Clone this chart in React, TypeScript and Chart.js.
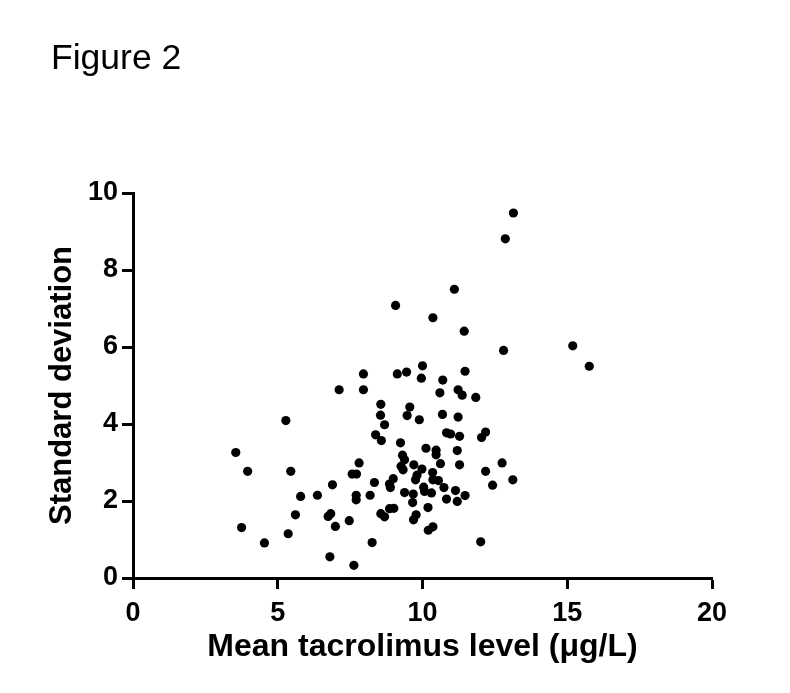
import React, { useEffect, useRef } from "react";
import { Chart, registerables } from "chart.js";

Chart.register(...registerables);

const meanLevel: number[] = [
  9.07, 7.96, 9.13, 7.12, 7.96, 13.14, 12.86, 11.10, 10.36, 11.44,
  12.80, 15.19, 15.76, 10.00, 9.45, 9.96, 10.70, 11.47, 8.56, 8.55,
  8.69, 5.28, 3.55, 3.96, 5.45, 7.81, 7.57, 7.72, 8.38, 8.58,
  9.24, 8.34, 8.99, 8.86, 8.89, 6.89, 5.79, 6.37, 7.71, 7.71,
  8.19, 5.61, 6.74, 6.83, 6.99, 7.47, 8.56, 8.69, 8.86, 9.01,
  3.75, 5.36, 4.54, 8.26, 6.80, 7.63, 10.60, 11.23, 11.37, 11.84,
  9.56, 9.47, 9.89, 10.69, 11.23, 10.83, 10.97, 11.28, 12.18, 12.04,
  10.12, 10.47, 10.47, 11.20, 9.31, 9.38, 9.26, 9.33, 9.70, 9.98,
  10.62, 11.28, 12.75, 12.18, 13.12, 12.42, 10.35, 10.36, 9.81, 9.76,
  10.55, 10.74, 10.04, 10.07, 10.31, 11.14, 11.47, 9.38, 9.68, 9.66,
  10.83, 11.20, 10.19, 9.78, 9.69, 10.36, 10.20, 12.01,
];

const stdDev: number[] = [
  7.08, 5.30, 5.30, 4.89, 4.89, 9.48, 8.81, 7.50, 6.76, 6.41,
  5.91, 6.03, 5.50, 5.51, 5.35, 5.19, 5.14, 5.37, 4.51, 4.23,
  3.98, 4.09, 3.26, 2.77, 2.77, 2.99, 2.70, 2.70, 3.72, 3.57,
  3.51, 2.48, 2.58, 2.44, 2.35, 2.42, 2.12, 2.15, 2.15, 2.03,
  2.15, 1.64, 1.60, 1.67, 1.34, 1.49, 1.67, 1.59, 1.80, 1.81,
  1.31, 1.15, 0.91, 0.92, 0.55, 0.33, 4.81, 4.89, 4.75, 4.69,
  4.44, 4.22, 4.11, 4.25, 4.18, 3.77, 3.74, 3.68, 3.79, 3.65,
  3.37, 3.32, 3.20, 3.31, 3.19, 3.07, 2.90, 2.81, 2.94, 2.83,
  2.97, 2.94, 2.99, 2.77, 2.55, 2.41, 2.74, 2.55, 2.67, 2.55,
  2.53, 2.35, 2.36, 2.25, 2.21, 2.27, 2.14, 2.22, 2.18, 1.96,
  2.05, 1.99, 1.83, 1.64, 1.51, 1.33, 1.24, 0.94,
];

const xTicks: number[] = [0, 5, 10, 15, 20];
const yTicks: number[] = [0, 2, 4, 6, 8, 10];

const figureLabel = "Figure 2";
const xTitle = "Mean tacrolimus level (\u03bcg/L)";
const yTitle = "Standard deviation";

const FONT = '"Liberation Sans", Arial, Helvetica, sans-serif';

export default function App() {
  const canvasRef = useRef<HTMLCanvasElement | null>(null);

  useEffect(() => {
    const canvas = canvasRef.current;
    if (!canvas) return;

    const figurePlugin = {
      id: "figureLabel",
      afterDraw(chart: any) {
        const ctx = chart.ctx;
        ctx.save();
        ctx.fillStyle = "#000";
        ctx.font = `35.5px ${FONT}`;
        ctx.textAlign = "left";
        ctx.textBaseline = "alphabetic";
        ctx.fillText(figureLabel, 51, 69);
        ctx.restore();
      },
    };

    const chart = new Chart(canvas, {
      type: "scatter",
      data: {
        datasets: [
          {
            data: meanLevel.map((x, i) => ({ x, y: stdDev[i] })),
            backgroundColor: "#000",
            borderColor: "#000",
            borderWidth: 0,
            pointRadius: 4.6,
            pointHoverRadius: 4.6,
          },
        ],
      },
      options: {
        responsive: false,
        animation: false,
        events: [],
        layout: { padding: { left: 0, top: 193, right: 78, bottom: 0 } },
        plugins: {
          legend: { display: false },
          tooltip: { enabled: false },
          title: { display: false },
        },
        scales: {
          x: {
            type: "linear",
            min: xTicks[0],
            max: xTicks[xTicks.length - 1],
            afterFit: (s: any) => {
              s.height = 693 - 578;
            },
            afterBuildTicks: (s: any) => {
              s.ticks = xTicks.map((v) => ({ value: v }));
            },
            border: { display: true, color: "#000", width: 3 },
            grid: {
              display: true,
              drawOnChartArea: false,
              drawTicks: true,
              tickLength: 11,
              tickWidth: 3,
              tickColor: "#000",
              color: "#000",
            },
            ticks: {
              color: "#000",
              padding: 8,
              font: { family: FONT, size: 27, weight: "bold" },
            },
            title: {
              display: true,
              text: xTitle,
              color: "#000",
              font: { family: FONT, size: 32, weight: "bold" },
              padding: { top: 0, bottom: 27 },
            },
          },
          y: {
            type: "linear",
            min: yTicks[0],
            max: yTicks[yTicks.length - 1],
            afterFit: (s: any) => {
              s.width = 133;
            },
            afterBuildTicks: (s: any) => {
              s.ticks = yTicks.map((v) => ({ value: v }));
            },
            border: { display: true, color: "#000", width: 3 },
            grid: {
              display: true,
              drawOnChartArea: false,
              drawTicks: true,
              tickLength: 11,
              tickWidth: 3,
              tickColor: "#000",
              color: "#000",
            },
            ticks: {
              color: "#000",
              padding: 4,
              font: { family: FONT, size: 27, weight: "bold" },
            },
            title: {
              display: true,
              text: yTitle,
              color: "#000",
              font: { family: FONT, size: 31, weight: "bold" },
              padding: { top: 44, bottom: 0 },
            },
          },
        },
      },
      plugins: [figurePlugin],
    });

    return () => {
      chart.destroy();
    };
  }, []);

  return (
    <div
      style={{
        position: "fixed",
        left: 0,
        top: 0,
        width: 790,
        height: 693,
        background: "#fff",
      }}
    >
      <canvas ref={canvasRef} width={790} height={693} />
    </div>
  );
}
